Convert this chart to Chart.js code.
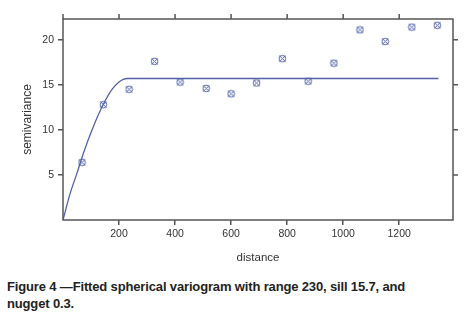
<!DOCTYPE html>
<html>
<head>
<meta charset="utf-8">
<script src="https://cdn.jsdelivr.net/npm/chart.js@4/dist/chart.umd.min.js"></script>
<style>
  body { margin: 0; background: #fff; width: 473px; height: 319px; overflow: hidden; }
  #wrap { position: relative; width: 473px; height: 272px; }
  #caption {
    position: absolute; left: 7px; top: 278px; width: 466px;
    font-family: "Liberation Sans", Arial, sans-serif; font-weight: bold;
    font-size: 13px; line-height: 17px; color: #222; letter-spacing: -0.15px;
  }
</style>
</head>
<body>
<div id="wrap"><canvas id="miGrafico" width="473" height="272"></canvas></div>
<div id="caption">Figure 4 —Fitted spherical variogram with range 230, sill 15.7, and<br>nugget 0.3.</div>
<script>
// datos
const distance = [68, 144, 236, 327, 418, 511, 600, 691, 783, 875, 967, 1060, 1150, 1245, 1336];
const gamma = [6.4, 12.8, 14.5, 17.6, 15.3, 14.6, 14.0, 15.2, 17.9, 15.4, 17.4, 21.1, 19.8, 21.4, 21.6];
// curva ajustada (modelo esferico)
const fitDist = [0, 25, 50, 75, 100, 125, 150, 175, 200, 215, 230, 1340];
const fitGamma = [0, 2.9, 5.2, 7.6, 9.7, 11.6, 13.2, 14.5, 15.3, 15.6, 15.7, 15.7];
const xTicks = [200, 400, 600, 800, 1000, 1200];
const yTicks = [5, 10, 15, 20];

const azul = "#5262a8";
const ejes = "#555555";

// simbolo: circulo con cruz
const marca = document.createElement('canvas');
marca.width = 9; marca.height = 9;
(function () {
    let c = marca.getContext('2d');
    c.strokeStyle = azul;
    c.lineWidth = 1;
    c.beginPath(); c.arc(4.5, 4.5, 3.3, 0, Math.PI * 2); c.stroke();
    c.beginPath();
    c.moveTo(1.5, 1.5); c.lineTo(7.5, 7.5);
    c.moveTo(7.5, 1.5); c.lineTo(1.5, 7.5);
    c.stroke();
})();

// marco y ticks superiores/derechos
const marco = {
    id: 'marco',
    afterDraw(chart) {
        const ctx = chart.ctx, a = chart.chartArea;
        const sx = chart.scales.x, sy = chart.scales.y;
        ctx.save();
        ctx.strokeStyle = ejes;
        ctx.lineWidth = 1.5;
        ctx.strokeRect(a.left, a.top, a.right - a.left, a.bottom - a.top);
        ctx.beginPath();
        for (let v of [0].concat(xTicks)) {
            let px = sx.getPixelForValue(v);
            ctx.moveTo(px, a.top); ctx.lineTo(px, a.top - 5);
        }
        for (let v of yTicks) {
            let py = sy.getPixelForValue(v);
            ctx.moveTo(a.right, py); ctx.lineTo(a.right + 5, py);
        }
        ctx.stroke();
        ctx.restore();
    }
};

let chartData = {
    datasets: [{
            label: 'semivariance',
            data: distance.map((d, i) => ({ x: d, y: gamma[i] })),
            showLine: false,
            pointStyle: marca,
            pointRadius: 5,
        }, {
            label: 'modelo',
            data: fitDist.map((d, i) => ({ x: d, y: fitGamma[i] })),
            showLine: true,
            borderColor: azul,
            borderWidth: 1.3,
            pointRadius: 0,
            cubicInterpolationMode: 'monotone',
        },
    ],
};

new Chart(document.getElementById('miGrafico'), {
    type: 'scatter',
    data: chartData,
    plugins: [marco],
    options: {
        responsive: false,
        animation: false,
        layout: { padding: { top: 19, right: 20, left: 20, bottom: 3 } },
        plugins: { legend: { display: false }, tooltip: { enabled: false } },
        scales: {
            x: {
                min: 0, max: 1392,
                afterBuildTicks: s => { s.ticks = xTicks.map(v => ({ value: v })); },
                afterFit: s => { s.height = 49; },
                border: { display: false },
                grid: { drawOnChartArea: false, drawTicks: true, tickLength: 5, color: ejes, lineWidth: 1.5 },
                ticks: { color: '#333', font: { family: 'Liberation Sans', size: 10.5 }, padding: 3, maxRotation: 0, callback: v => String(v) },
                title: { display: true, text: 'distance', color: '#333', font: { family: 'Liberation Sans', size: 11.5 }, padding: { top: 1 } },
            },
            y: {
                min: 0, max: 22.3,
                afterBuildTicks: s => { s.ticks = yTicks.map(v => ({ value: v })); },
                afterFit: s => { s.width = 43; },
                border: { display: false },
                grid: { drawOnChartArea: false, drawTicks: true, tickLength: 5, color: ejes, lineWidth: 1.5 },
                ticks: { color: '#333', font: { family: 'Liberation Sans', size: 10.5 }, padding: 4 },
                title: { display: true, text: 'semivariance', color: '#333', font: { family: 'Liberation Sans', size: 12 }, padding: 0 },
            }
        }
    }
});
</script>
</body>
</html>
